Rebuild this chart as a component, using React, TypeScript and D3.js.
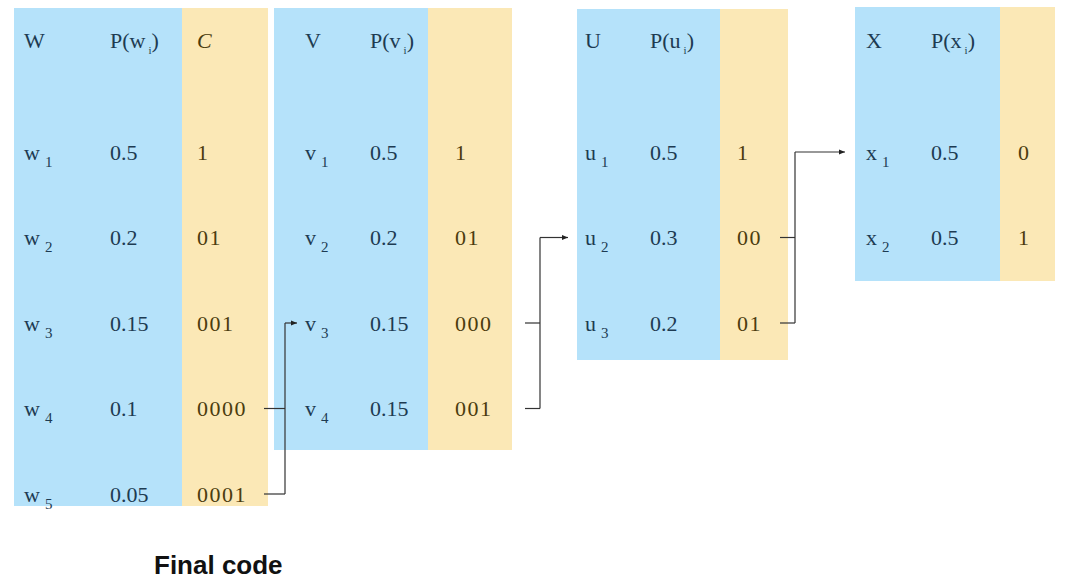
import * as d3 from "d3";
import * as React from "react";

const wProbs = ["0.5", "0.2", "0.15", "0.1", "0.05"];
const wCodes = ["1", "01", "001", "0000", "0001"];
const vProbs = ["0.5", "0.2", "0.15", "0.15"];
const vCodes = ["1", "01", "000", "001"];
const uProbs = ["0.5", "0.3", "0.2"];
const uCodes = ["1", "00", "01"];
const xProbs = ["0.5", "0.5"];
const xCodes = ["0", "1"];

interface Table {
  sym: string;
  letter: string;
  probs: string[];
  codes: string[];
  header: string;
  x0: number; x1: number; x2: number; top: number; bottom: number;
  nameX: number; probX: number; codeX: number;
}

const tables: Table[] = [
  { sym: "W", letter: "w", probs: wProbs, codes: wCodes, header: "C", x0: 14, x1: 182, x2: 268, top: 8, bottom: 506, nameX: 24, probX: 110, codeX: 197 },
  { sym: "V", letter: "v", probs: vProbs, codes: vCodes, header: "", x0: 274, x1: 428, x2: 512, top: 8, bottom: 450, nameX: 305, probX: 370, codeX: 455 },
  { sym: "U", letter: "u", probs: uProbs, codes: uCodes, header: "", x0: 577, x1: 720, x2: 788, top: 9, bottom: 360, nameX: 585, probX: 650, codeX: 737 },
  { sym: "X", letter: "x", probs: xProbs, codes: xCodes, header: "", x0: 855, x1: 1000, x2: 1055, top: 7, bottom: 281, nameX: 866, probX: 931, codeX: 1018 },
];

const rowY = d3.scaleLinear().domain([0, 4]).range([152, 494]);
const headerY = 40;
const blue = "#b5e2fa";
const yellow = "#fbe8b6";
const ink = "#1d3b52";
const ink2 = "#4b3c0e";
const font = "'Liberation Serif', 'DejaVu Serif', serif";

// connectors: rows of one table merging into a row of the next
const links = [
  { fromX: 264, midX: 285, toX: 297, rows: [3, 4], target: 2 },
  { fromX: 525, midX: 540, toX: 568, rows: [2, 3], target: 1 },
  { fromX: 780, midX: 795, toX: 845, rows: [1, 2], target: 0 },
];

export default function App() {
  return (
    <svg width={1068} height={583} style={{ position: "absolute", left: 0, top: 0 }}>
      <defs>
        <marker id="ah" viewBox="0 0 10 10" refX={10} refY={5} markerWidth={5} markerHeight={5} orient="auto">
          <path d="M0,1 L10,5 L0,9 z" fill="#222" />
        </marker>
      </defs>
      <rect width={1068} height={583} fill="white" />
      {tables.map((t) => (
        <g key={t.sym} fontFamily={font} fontSize={22}>
          <rect x={t.x0} y={t.top} width={t.x1 - t.x0} height={t.bottom - t.top} fill={blue} />
          <rect x={t.x1} y={t.top} width={t.x2 - t.x1} height={t.bottom - t.top} fill={yellow} />
          <text x={t.nameX} y={headerY} dy="0.35em" fill={ink}>{t.sym}</text>
          <text x={t.probX} y={headerY} dy="0.35em" fill={ink}>
            P({t.letter}<tspan fontSize={11} dx={3} dy={6}>i</tspan><tspan dy={-6}>)</tspan>
          </text>
          {t.header && (
            <text x={t.codeX} y={headerY} dy="0.35em" fill={ink2} fontStyle="italic">{t.header}</text>
          )}
          {t.probs.map((p, i) => (
            <g key={i}>
              <text x={t.nameX} y={rowY(i)} dy="0.35em" fill={ink}>
                {t.letter}<tspan fontSize={15} dx={5} dy={7}>{i + 1}</tspan>
              </text>
              <text x={t.probX} y={rowY(i)} dy="0.35em" fill={ink}>{p}</text>
              <text x={t.codeX} y={rowY(i)} dy="0.35em" fill={ink2} letterSpacing={1.5}>{t.codes[i]}</text>
            </g>
          ))}
        </g>
      ))}
      {links.map((l, k) => (
        <g key={k} stroke="#333" strokeWidth={1.2} fill="none">
          {l.rows.map((r) => (
            <line key={r} x1={l.fromX} x2={l.midX} y1={rowY(r)} y2={rowY(r)} />
          ))}
          <line x1={l.midX} x2={l.midX} y1={rowY(l.rows[1])} y2={rowY(l.target)} />
          <line x1={l.midX} x2={l.toX} y1={rowY(l.target)} y2={rowY(l.target)} markerEnd="url(#ah)" />
        </g>
      ))}
      <text x={154} y={565} dy="0.35em" fontFamily="'Liberation Sans', Arial, sans-serif" fontWeight="bold" fontSize={26} fill="#111">
        Final code
      </text>
    </svg>
  );
}
